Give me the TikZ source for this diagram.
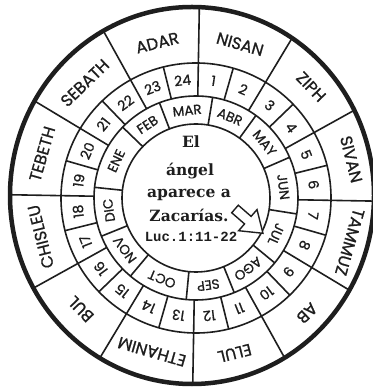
\documentclass[tikz,border=0pt]{standalone}
\usepackage{fontspec}
\setmainfont{DejaVu Serif}
\newfontfamily\labfont[FakeBold=0.8]{Poppins}
\newfontfamily\reffont{Liberation Mono}
\usetikzlibrary{calc}
\definecolor{ink}{HTML}{1E1E1E}
\begin{document}
\begin{tikzpicture}[x=1pt,y=1pt,
  ring/.style={draw=ink, line width=1.6pt},
  outerlab/.style={font=\labfont\fontsize{16.5}{16.5}\selectfont, text=ink, inner sep=0pt},
  numlab/.style={font=\labfont\fontsize{14}{14}\selectfont, text=ink, inner sep=0pt},
  monlab/.style={font=\labfont\fontsize{13.5}{13.5}\selectfont, text=ink, inner sep=0pt},
  ctext/.style={font=\bfseries\fontsize{15.5}{15.5}\selectfont, text=ink, anchor=base, inner sep=0pt},
  rtext/.style={font=\reffont\bfseries\fontsize{14}{14}\selectfont, text=ink, anchor=base, inner sep=0pt}]
\useasboundingbox (0,0) rectangle (372,387);
\fill[white] (0,0) rectangle (372,387);
\coordinate (C) at (196,189);
\coordinate (E) at (192,191.5);
% outer dividers, clipped by the border
\begin{scope}
  \clip (E) ellipse[x radius=182pt, y radius=188.5pt];
  \foreach \a in {-1,29,59,89,119,149,179,209,239,269,299,329}
    \draw[ring] ($(C)+(\a:135pt)$) -- ($(C)+(\a:230pt)$);
\end{scope}
\begin{scope}[shift={(C)}]
  \draw[ring] (0,0) circle[radius=74pt];
  \draw[ring] (0,0) circle[radius=102pt];
  \draw[ring] (0,0) circle[radius=135pt];
  % number ring dividers
  \foreach \k in {0,...,23}
    \draw[ring] ({15*\k-1}:102pt) -- ({15*\k-1}:135pt);
  % inner ring dividers
  \foreach \a in {111,80.6,54,23.5,-9,-39.5,-68,-95.5,-130,-158,-186,-224}
    \draw[ring] (\a:74pt) -- (\a:102pt);
  % Hebrew months
  \foreach \a/\t [count=\i] in {104/ADAR,74/NISAN,44/ZIPH,14/SIVAN,-16/TAMMUZ,-46/AB,-76/ELUL,-106/ETHANIM,-136/BUL,-166/CHISLEU,164/TEBETH,134/SEBATH}
    \node[outerlab, rotate=\a-90] (h\i) at (\a:160pt) {\t};
  % numbers
  \foreach \k in {1,...,24}
    \node[numlab, rotate={90-15*(\k-0.5)-1-90}] (n\k) at ({90-15*(\k-0.5)-1}:118.5pt) {\k};
  % Spanish months
  \foreach \a/\t [count=\i] in {95.8/MAR,67.3/ABR,38.75/MAY,7.25/JUN,-24.25/JUL,-53.75/AGO,-82/SEP,-112.75/OCT,-144/NOV,-172/DIC,-205/ENE,-236.5/FEB}
    \node[monlab, rotate=\a-90] (m\i) at (\a:88pt) {\t};
\end{scope}
\draw[draw=ink, line width=4.5pt] (E) ellipse[x radius=182pt, y radius=188.5pt];
% centre text
\node[ctext] (t1) at (191,239) {El};
\node[ctext] (t2) at (190,211) {ángel};
\node[ctext] (t3) at (189,189) {aparece a};
\node[ctext] (t4) at (189,165) {Zacarías.};
\node[rtext] (t5) at (191,145) {Luc.1:11-22};
% hollow arrow pointing at JUL
\begin{scope}[shift={(235,178)}, rotate=-41]
  \draw[ring, fill=white, line width=1.4pt, line join=miter]
    (0,5) -- (17,5) -- (17,14) -- (37,0) -- (17,-14) -- (17,-5) -- (0,-5) -- cycle;
\end{scope}
\end{tikzpicture}
\end{document}
